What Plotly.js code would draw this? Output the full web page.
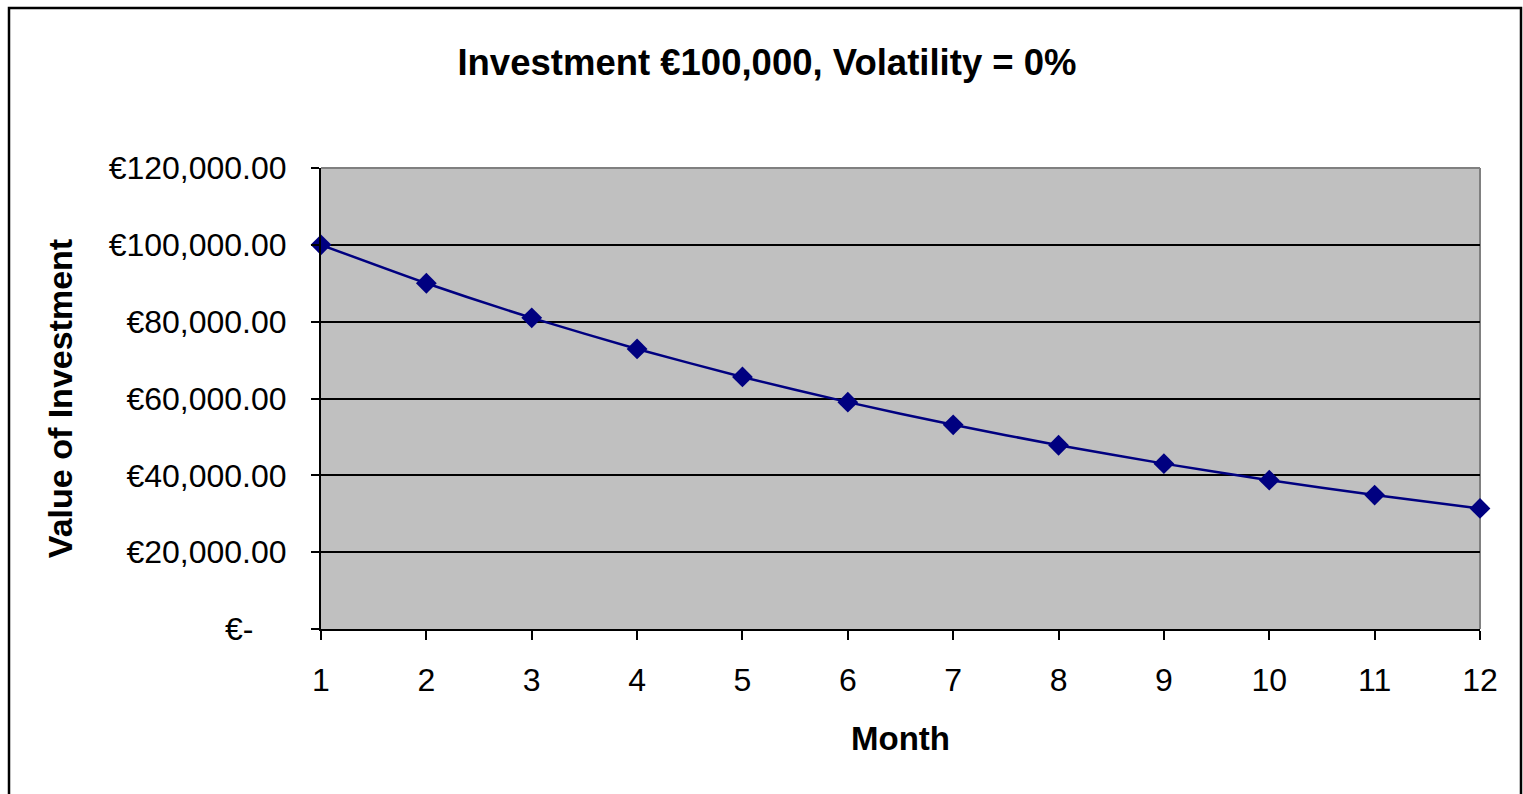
<!DOCTYPE html>
<html>
<head>
<meta charset="utf-8">
<script src="https://cdn.plot.ly/plotly-3.0.1.min.js"></script>
<style>
  html, body { margin: 0; padding: 0; background: #ffffff; }
  #chart { width: 1523px; height: 794px; }
</style>
</head>
<body>
<div id="chart"></div>
<script>
// ---- data ----
const months = [1, 2, 3, 4, 5, 6, 7, 8, 9, 10, 11, 12];
const values = [100000, 90000, 81000, 72900, 65610, 59049, 53144, 47830, 43047, 38742, 34868, 31381];
const yTickVals = [0, 20000, 40000, 60000, 80000, 100000, 120000];
const yTickText = ['€-\u00a0\u00a0\u00a0\u2009', '€20,000.00', '€40,000.00', '€60,000.00', '€80,000.00', '€100,000.00', '€120,000.00'];
const xTickVals = months;
const chartTitle = 'Investment €100,000, Volatility = 0%';
const xTitle = 'Month';
const yTitle = 'Value of Investment';

const FONT = '"Liberation Sans", Arial, sans-serif';

const trace = {
  x: months,
  y: values,
  type: 'scatter',
  mode: 'lines+markers',
  line: { color: '#000080', width: 2.5, shape: 'spline', smoothing: 0.6 },
  marker: { symbol: 'diamond', size: 16, color: '#000080' },
  cliponaxis: false,
  hoverinfo: 'x+y'
};

const layout = {
  width: 1523,
  height: 794,
  margin: { l: 321, r: 43, t: 168, b: 165 },
  paper_bgcolor: '#ffffff',
  plot_bgcolor: '#C0C0C0',
  showlegend: false,
  font: { family: FONT, color: '#000000', size: 32 },
  title: {
    text: '<b>' + chartTitle + '</b>',
    font: { family: FONT, size: 36.5, color: '#000000' },
    x: 767 / 1523, xref: 'container', xanchor: 'center',
    y: 1 - 62 / 794, yref: 'container', yanchor: 'middle'
  },
  xaxis: {
    range: [1, 12],
    tickvals: xTickVals,
    ticktext: xTickVals.map(String),
    ticks: 'outside', ticklen: 9, tickwidth: 2, tickcolor: '#000000',
    showline: true, linecolor: '#000000', linewidth: 2,
    showgrid: false, zeroline: false,
    tickfont: { family: FONT, size: 32, color: '#000000' },
    ticklabelstandoff: 13,
    title: { text: '<b>' + xTitle + '</b>', font: { family: FONT, size: 33, color: '#000000' }, standoff: 29 }
  },
  yaxis: {
    range: [0, 120000],
    tickvals: yTickVals,
    ticktext: yTickText,
    ticks: 'outside', ticklen: 8, tickwidth: 2, tickcolor: '#000000',
    showline: true, linecolor: '#000000', linewidth: 2,
    showgrid: true, gridcolor: '#000000', gridwidth: 2,
    zeroline: false,
    tickfont: { family: FONT, size: 32, color: '#000000' },
    ticklabelstandoff: 18,
    title: { text: '<b>' + yTitle + '</b>', font: { family: FONT, size: 34, color: '#000000' }, standoff: 26 }
  },
  shapes: [
    // gray top & right edge of plot area
    { type: 'line', xref: 'paper', yref: 'paper', x0: 0, x1: 1, y0: 1, y1: 1, line: { color: '#808080', width: 2 } },
    { type: 'line', xref: 'paper', yref: 'paper', x0: 1, x1: 1, y0: 0, y1: 1, line: { color: '#808080', width: 2 }, layer: 'below' },
    // outer chart border
    { type: 'rect', xref: 'paper', yref: 'paper',
      x0: (9 - 321) / 1159, x1: (1521 - 321) / 1159,
      y0: (629 - 800) / 461, y1: (629 - 8) / 461,
      line: { color: '#000000', width: 2.5 }, fillcolor: 'rgba(0,0,0,0)' }
  ]
};

Plotly.newPlot('chart', [trace], layout, { displayModeBar: false, staticPlot: false });
</script>
</body>
</html>
